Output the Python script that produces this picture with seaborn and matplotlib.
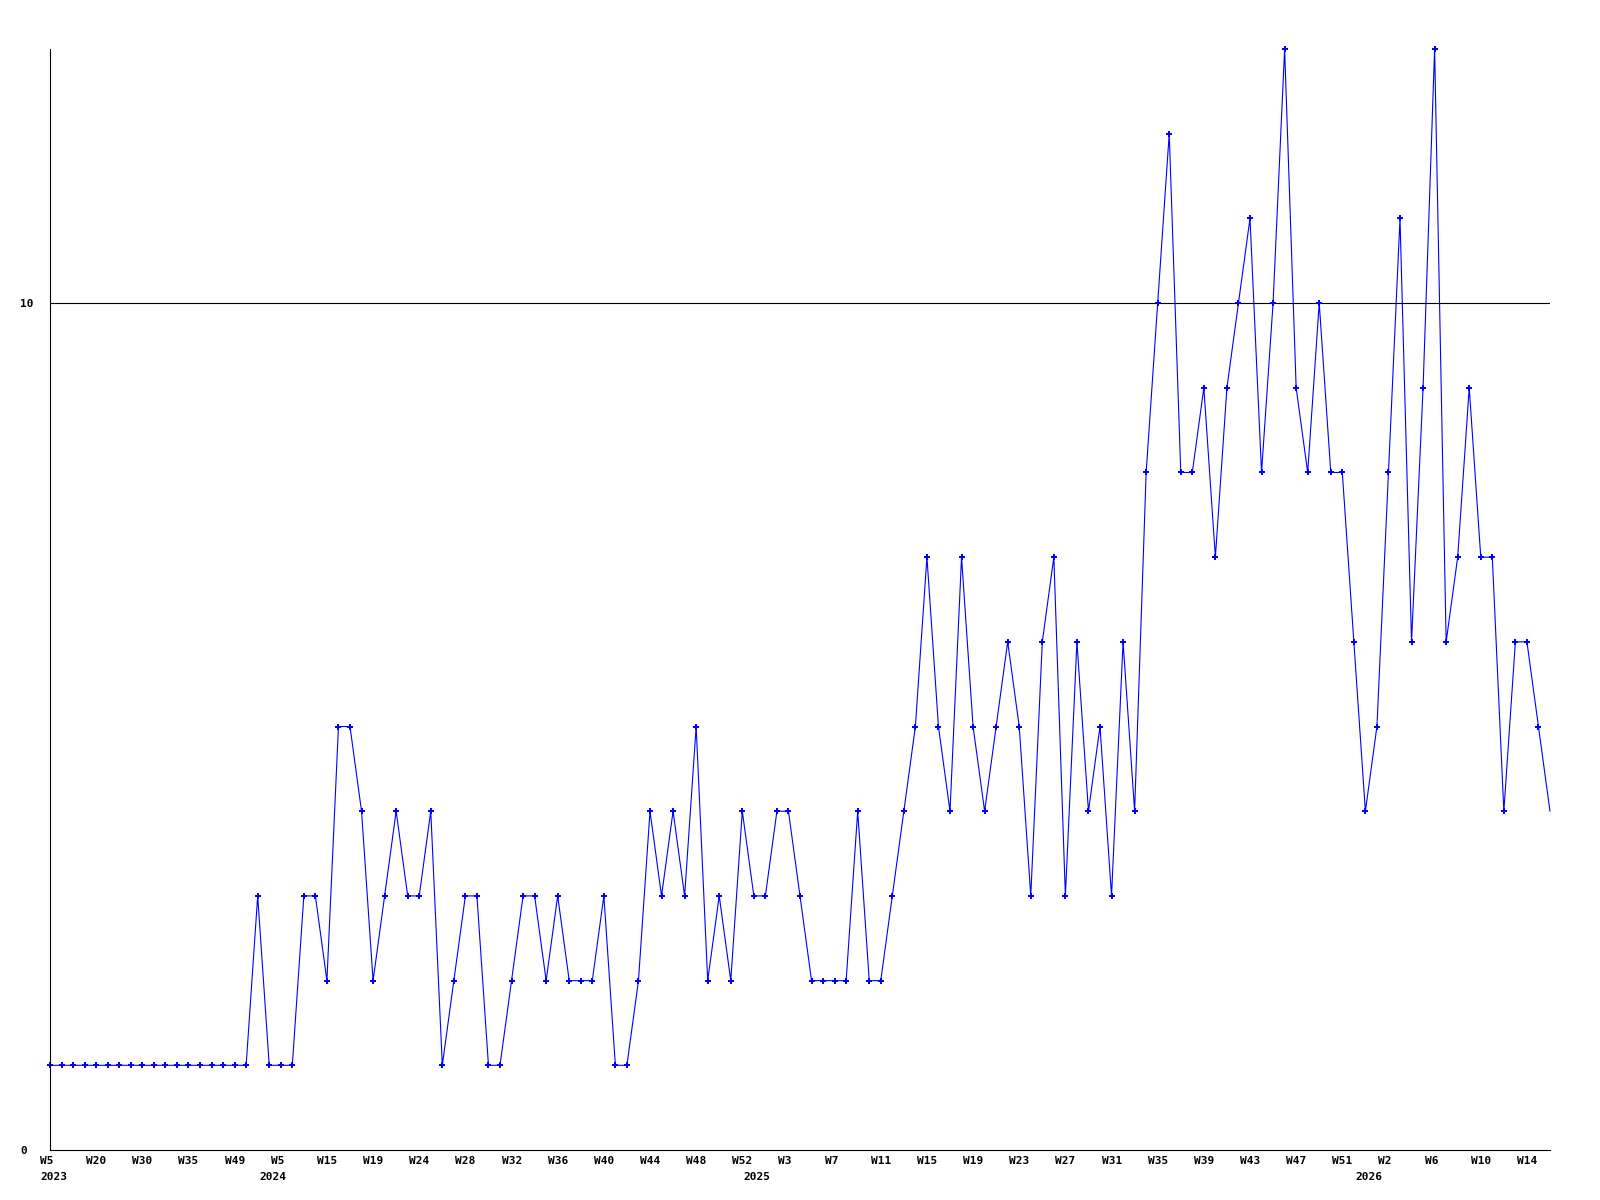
import matplotlib
matplotlib.use('Agg')
import matplotlib.pyplot as plt
import numpy as np
import pandas as pd
import seaborn as sns

# weekly counts, one per point, oldest first
counts = [1, 1, 1, 1, 1, 1, 1, 1, 1, 1, 1, 1, 1, 1, 1, 1, 1, 1,
          3, 1, 1, 1,
          3, 3, 2, 5, 5, 4, 2, 3, 4, 3, 3, 4,
          1, 2, 3, 3, 1, 1, 2, 3, 3, 2, 3, 2, 2, 2, 3, 1, 1, 2,
          4, 3, 4, 3, 5, 2, 3, 2, 4, 3, 3, 4, 4, 3, 2, 2, 2, 2, 4, 2, 2, 3,
          4, 5, 7, 5, 4, 7, 5, 4, 5, 6, 5, 3, 6, 7, 3, 6, 4, 5, 3, 6, 4,
          8, 10, 12, 8, 8, 9, 7, 9, 10, 11, 8, 10, 13, 9, 8, 10, 8, 8,
          6, 4, 5, 8, 11, 6, 9, 13, 6, 7, 9, 7, 7, 4, 6, 6, 5, 4]

# a week label is shown on every 4th point
week_labels = ['W5', 'W20', 'W30', 'W35', 'W49',
               'W5', 'W15', 'W19', 'W24', 'W28', 'W32', 'W36', 'W40', 'W44', 'W48', 'W52',
               'W3', 'W7', 'W11', 'W15', 'W19', 'W23', 'W27', 'W31', 'W35', 'W39', 'W43', 'W47', 'W51',
               'W2', 'W6', 'W10', 'W14']
label_step = 4

# first point of each year
years = ['2023', '2024', '2025', '2026']
year_start = [0, 19, 61, 114]

y_ticks = [0, 10]

df = pd.DataFrame({'idx': np.arange(len(counts)), 'count': counts})

sns.set_style('white')
plt.rcParams['font.family'] = ['DejaVu Sans Mono']
plt.rcParams['text.color'] = 'black'
plt.rcParams['ytick.color'] = 'black'

fig = plt.figure(figsize=(16, 12), dpi=100)
ax = fig.add_axes([50/1600, 1 - 1150/1200, 1500/1600, 1101/1200])

sns.lineplot(data=df, x='idx', y='count', ax=ax, color='#0000ff', linewidth=0.8,
             marker='P', markersize=4, markeredgewidth=0, markerfacecolor='#0000ff',
             markevery=list(range(len(counts) - 1)), clip_on=False)

ax.set_xlim(0, len(counts) - 1)
ax.set_ylim(0, 13)

for s in ['top', 'right']:
    ax.spines[s].set_visible(False)
for s in ['left', 'bottom']:
    ax.spines[s].set_color('black')
    ax.spines[s].set_linewidth(0.8)

ax.axhline(10, color='black', linewidth=0.8, zorder=0)

ax.set_yticks(y_ticks)
ax.set_yticklabels([str(t) for t in y_ticks], fontsize=8, fontweight='bold', color='black')
ax.tick_params(axis='y', length=0, pad=21.6)
for t in ax.get_yticklabels():
    t.set_horizontalalignment('left')

ax.set_xticks([])
ax.set_xlabel('')
ax.set_ylabel('')

tick_pos = list(range(0, len(counts), label_step))
for pos, lab in zip(tick_pos, week_labels):
    ax.annotate(lab, xy=(pos, 0), xycoords=('data', 'axes fraction'),
                xytext=(-7.2, -8), textcoords='offset points',
                ha='left', va='center', fontsize=8, fontweight='bold', color='black')
for pos, yr in zip(year_start, years):
    ax.annotate(yr, xy=(pos, 0), xycoords=('data', 'axes fraction'),
                xytext=(-7.2, -19.5), textcoords='offset points',
                ha='left', va='center', fontsize=8, fontweight='bold', color='black')

fig.savefig('out.png', dpi=100, facecolor='white')
